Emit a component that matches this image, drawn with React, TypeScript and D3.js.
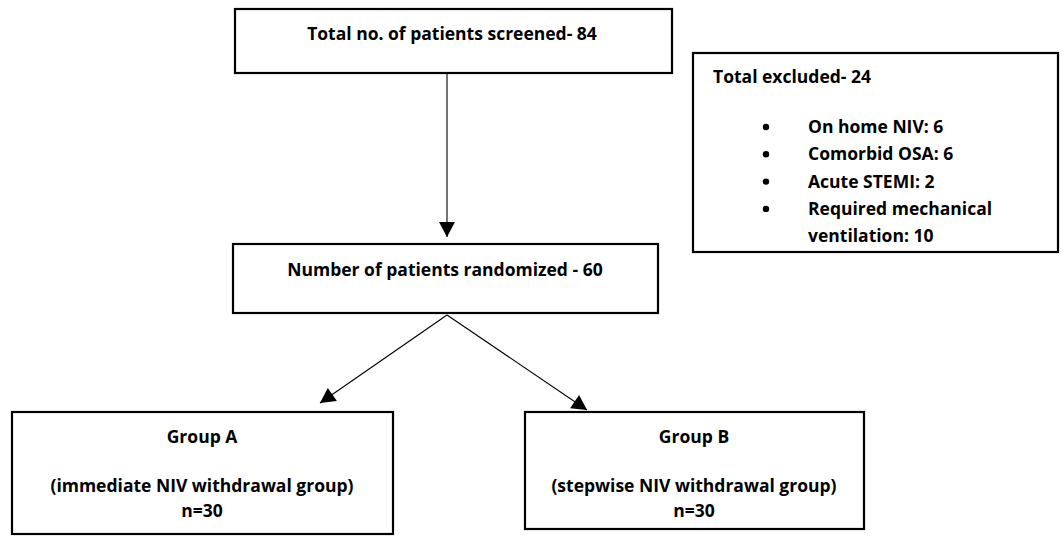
import * as d3 from "d3";

const screened = 84;
const randomized = 60;
const excludedTotal = 24;
const exclusionLabels = ["On home NIV", "Comorbid OSA", "Acute STEMI", "Required mechanical"];
const exclusionCounts = [6, 6, 2, 10];
const groupNames = ["Group A", "Group B"];
const groupDescriptions = ["(immediate NIV withdrawal group)", "(stepwise NIV withdrawal group)"];
const groupCounts = [30, 30];

const FONT = "'Open Sans', Lato, sans-serif";
const FS = 17.5;

type Box = { x0: number; y0: number; x1: number; y1: number };

const topBox: Box = { x0: 235, y0: 9, x1: 672, y1: 73 };
const midBox: Box = { x0: 233, y0: 244, x1: 658, y1: 313 };
const exclBox: Box = { x0: 693, y0: 53, x1: 1058, y1: 252 };
const groupBoxes: Box[] = [
  { x0: 12, y0: 412, x1: 393, y1: 534 },
  { x0: 525, y0: 412, x1: 864, y1: 529 },
];

const arrowHead = (x1: number, y1: number, x2: number, y2: number, len = 15, half = 8) => {
  const a = Math.atan2(y2 - y1, x2 - x1);
  const bx = x2 - len * Math.cos(a);
  const by = y2 - len * Math.sin(a);
  const px = -Math.sin(a) * half;
  const py = Math.cos(a) * half;
  return `M${x2},${y2}L${bx + px},${by + py}L${bx - px},${by - py}Z`;
};

const Arrow = ({ x1, y1, x2, y2 }: { x1: number; y1: number; x2: number; y2: number }) => {
  const line = d3.line();
  return (
    <g>
      <path d={line([[x1, y1], [x2, y2]]) ?? ""} stroke="#000" strokeWidth={1.1} fill="none" />
      <path d={arrowHead(x1, y1, x2, y2)} fill="#000" />
    </g>
  );
};

const Rect = ({ b }: { b: Box }) => (
  <rect x={b.x0} y={b.y0} width={b.x1 - b.x0} height={b.y1 - b.y0} fill="#fff" stroke="#000" strokeWidth={2.2} />
);

export default function App() {
  const width = 1064;
  const height = 541;
  const lineY = d3.scaleLinear().domain([0, 1]).range([133, 160.3]);
  const groupCx = [202, 694];
  const splitX = 447;

  return (
    <svg
      width={width}
      height={height}
      style={{ position: "absolute", left: 0, top: 0, background: "#fff" }}
      fontFamily={FONT}
      fontWeight="bold"
      fontSize={FS}
    >
      <rect width={width} height={height} fill="#fff" />
      <Rect b={topBox} />
      <text x={452} y={40} textAnchor="middle">{`Total no. of patients screened- ${screened}`}</text>

      <Arrow x1={447} y1={73} x2={447} y2={237} />

      <Rect b={midBox} />
      <text x={445} y={276} textAnchor="middle">{`Number of patients randomized - ${randomized}`}</text>

      <Arrow x1={splitX} y1={315} x2={320} y2={403} />
      <Arrow x1={splitX} y1={315} x2={587} y2={410} />

      <Rect b={exclBox} />
      <text x={713} y={83}>{`Total excluded- ${excludedTotal}`}</text>
      {exclusionLabels.map((lab, i) => (
        <g key={lab}>
          <circle cx={766} cy={lineY(i) - 6} r={3.2} fill="#000" />
          <text x={808} y={lineY(i)}>
            {i === exclusionLabels.length - 1 ? lab : `${lab}: ${exclusionCounts[i]}`}
          </text>
        </g>
      ))}
      <text x={808} y={lineY(4)}>{`ventilation: ${exclusionCounts[3]}`}</text>

      {groupBoxes.map((b, i) => (
        <g key={groupNames[i]}>
          <Rect b={b} />
          <text x={groupCx[i]} y={443} textAnchor="middle">{groupNames[i]}</text>
          <text x={groupCx[i]} y={492} textAnchor="middle">{groupDescriptions[i]}</text>
          <text x={groupCx[i]} y={517} textAnchor="middle">{`n=${groupCounts[i]}`}</text>
        </g>
      ))}
    </svg>
  );
}
